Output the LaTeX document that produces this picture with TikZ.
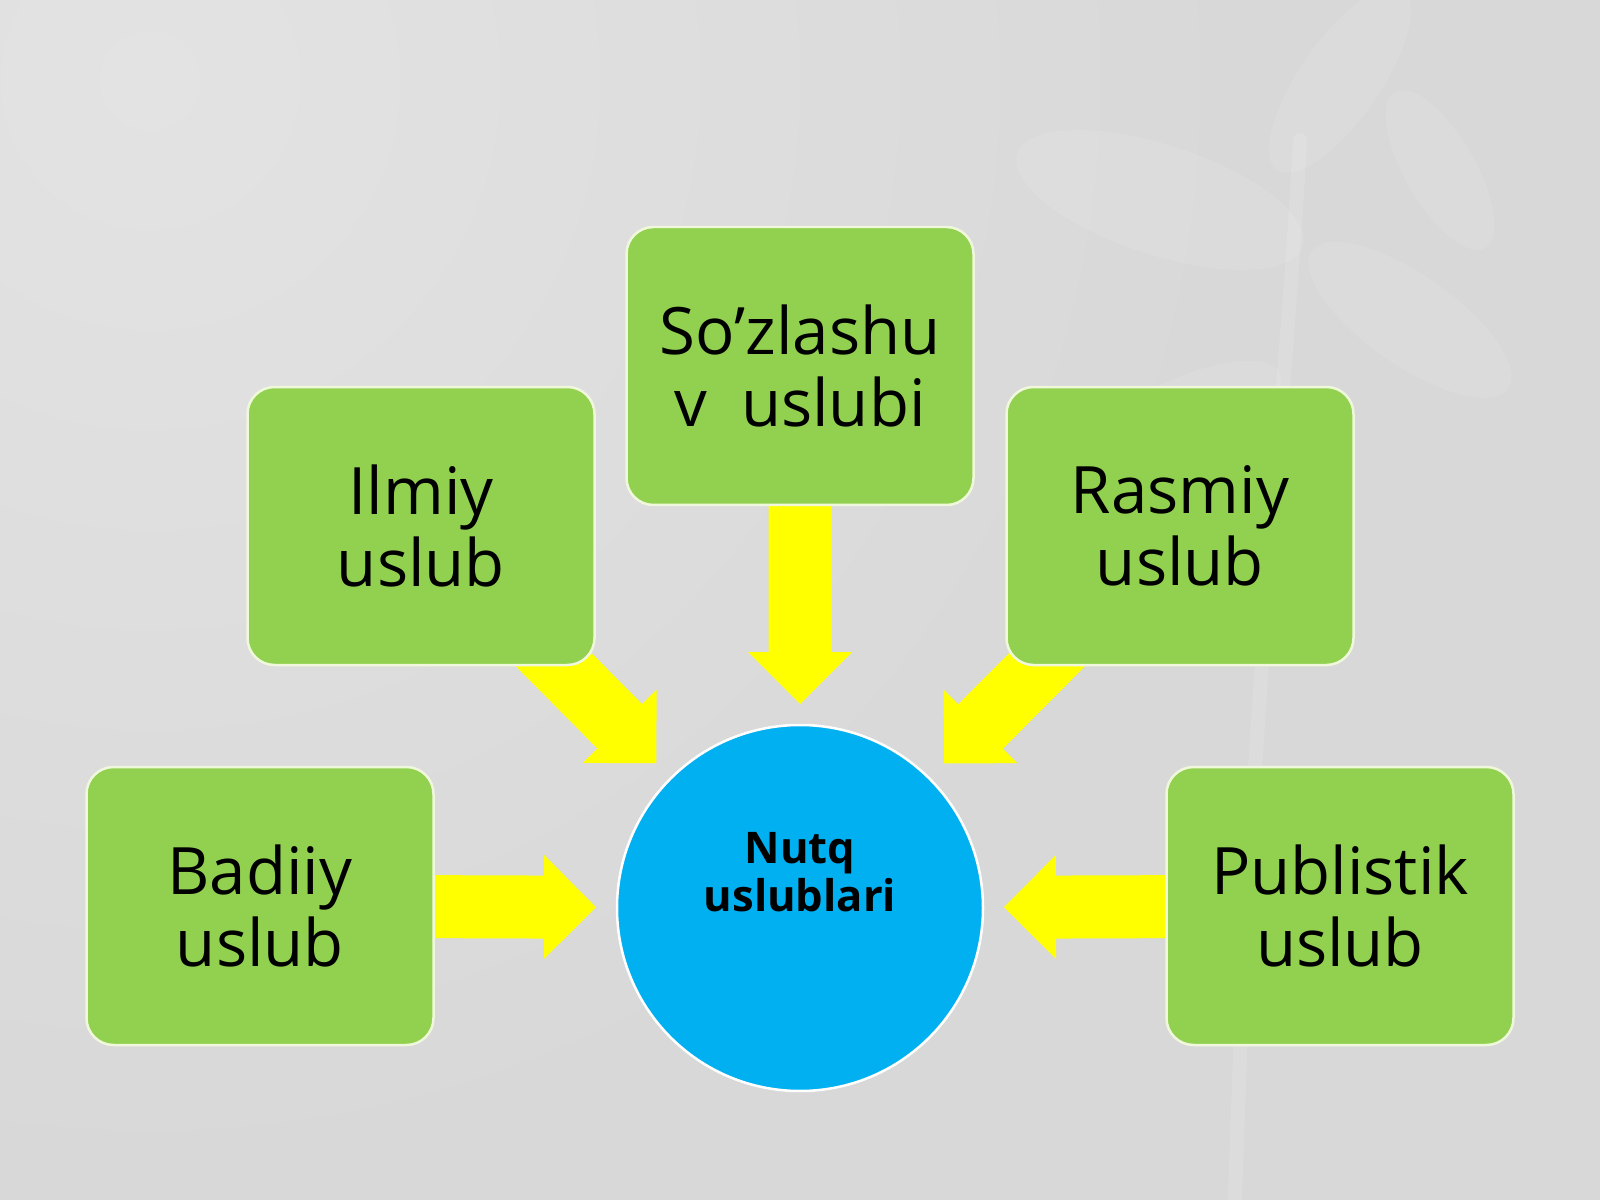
\documentclass[tikz,border=0pt]{standalone}
\usepackage{fontspec}
\setmainfont{Open Sans}
\usetikzlibrary{calc}
\definecolor{bggray}{HTML}{D8D8D8}
\definecolor{bglight}{HTML}{E3E3E3}
\definecolor{boxgreen}{HTML}{92D050}
\definecolor{boxedge}{HTML}{F0F8DC}
\definecolor{circblue}{HTML}{00B0F0}
\definecolor{arrowyellow}{HTML}{FFFF00}
\pgfdeclarelayer{bglayer}
\pgfdeclarelayer{arrowlayer}
\pgfsetlayers{bglayer,arrowlayer,main}
\tikzset{
  stylebox/.style={draw=boxedge, line width=0.25mm, fill=boxgreen, rounded corners=2.7mm,
    minimum width=34.7mm, minimum height=27.8mm, inner sep=0pt, align=center,
    font=\fontsize{18.6}{20.5}\selectfont, text=black},
  hubcircle/.style={circle, draw=white, line width=0.25mm, fill=circblue,
    minimum size=36.6mm, inner sep=0pt},
  hubtext/.style={align=center, inner sep=0pt, text=black,
    font=\bfseries\fontsize{12.4}{13.7}\selectfont},
  blockfill/.style={fill=arrowyellow},
  leaf/.style={fill=white, opacity=0.1},
  stem/.style={draw=white, opacity=0.12, line cap=round},
}
% #1 = source node, #2 = name prefix; block arrow from source node to hub
\newcommand\hubarrow[2]{%
  \coordinate (#2s) at (#1.center);
  \coordinate (#2t) at ($(nutq.center)!20.4mm!(#1.center)$);
  \coordinate (#2h) at ($(#2t)!5.2mm!(#2s)$);
  \fill[blockfill] ($(#2s)!3.15mm!90:(#2t)$) -- ($(#2h)!3.15mm!90:(#2t)$)
    -- ($(#2h)!5.2mm!90:(#2t)$) -- (#2t) -- ($(#2h)!5.2mm!-90:(#2t)$)
    -- ($(#2h)!3.15mm!-90:(#2t)$) -- ($(#2s)!3.15mm!-90:(#2t)$) -- cycle;
}
\begin{document}
\begin{tikzpicture}[x=0.1mm,y=-0.1mm]
\useasboundingbox (0,0) rectangle (1600,1200);
\begin{pgfonlayer}{bglayer}
  \fill[bggray] (0,0) rectangle (1600,1200);
  \shade[inner color=bglight, outer color=bggray] (150,80) circle (1100);
  % faint plant silhouette
  \draw[stem, line width=1.4mm] (1300,140) .. controls (1285,420) and (1250,700) .. (1235,1200);
  \fill[leaf, rotate around={-18:(1160,200)}] (1160,200) ellipse (150 and 55);
  \fill[leaf, rotate around={55:(1340,80)}] (1340,80) ellipse (110 and 40);
  \fill[leaf, rotate around={-35:(1410,320)}] (1410,320) ellipse (120 and 45);
  \fill[leaf, rotate around={25:(1180,420)}] (1180,420) ellipse (110 and 40);
  \fill[leaf, rotate around={-60:(1440,170)}] (1440,170) ellipse (90 and 35);
\end{pgfonlayer}

\node[stylebox] (sozlashuv) at (800,366) {So’zlashu\\v\ \ uslubi};
\node[stylebox] (ilmiy) at (421,526) {Ilmiy\\uslub};
\node[stylebox] (rasmiy) at (1180,526) {Rasmiy\\uslub};
\node[stylebox] (badiiy) at (260,906) {Badiiy\\uslub};
\node[stylebox] (publistik) at (1340,906) {Publistik\\uslub};
\node[hubcircle] (nutq) at (800,908) {};
\node[hubtext] (nutqlabel) at (800,872) {Nutq\\uslublari};

\begin{pgfonlayer}{arrowlayer}
  \hubarrow{sozlashuv}{a1}
  \hubarrow{ilmiy}{a2}
  \hubarrow{rasmiy}{a3}
  \hubarrow{badiiy}{a4}
  \hubarrow{publistik}{a5}
\end{pgfonlayer}
\end{tikzpicture}
\end{document}
